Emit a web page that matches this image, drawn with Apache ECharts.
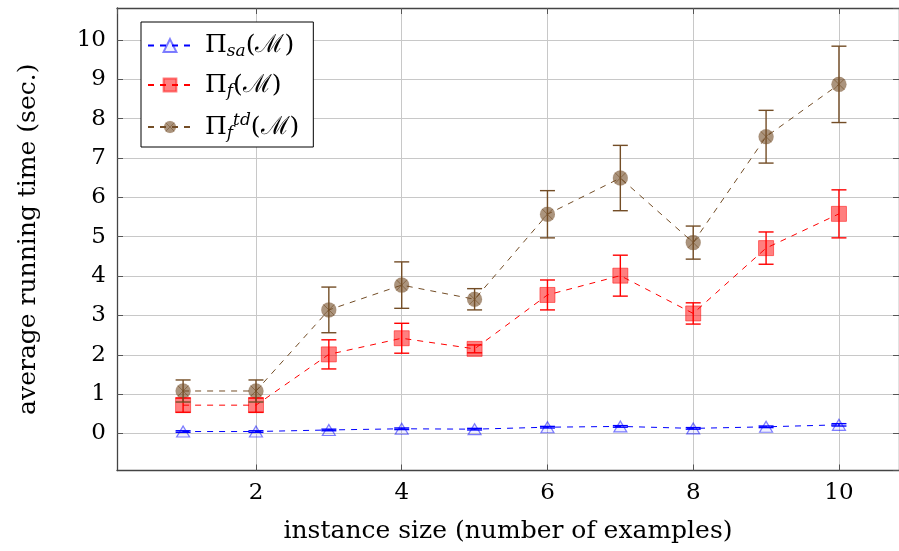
<!DOCTYPE html>
<html>
<head>
<meta charset="utf-8">
<script src="https://cdn.jsdelivr.net/npm/echarts@6/dist/echarts.min.js"></script>
<style>
  html, body { margin: 0; padding: 0; background: #fff; }
  #chart { width: 899px; height: 551px; }
</style>
</head>
<body>
<div id="chart"></div>
<script>
// instance sizes
const sizes = [1, 2, 3, 4, 5, 6, 7, 8, 9, 10];
// Pi_sa(M)
const saMean = [0.05, 0.05, 0.09, 0.12, 0.11, 0.16, 0.18, 0.13, 0.17, 0.22];
const saErr = [0.02, 0.02, 0.02, 0.02, 0.02, 0.02, 0.02, 0.02, 0.02, 0.03];
// Pi_f(M)
const fMean = [0.72, 0.72, 2.01, 2.42, 2.15, 3.52, 4.01, 3.05, 4.71, 5.58];
const fErr = [0.18, 0.18, 0.37, 0.38, 0.10, 0.38, 0.52, 0.27, 0.41, 0.61];
// Pi_f^td(M)
const tdMean = [1.08, 1.08, 3.14, 3.77, 3.41, 5.57, 6.49, 4.85, 7.54, 8.87];
const tdErr = [0.28, 0.28, 0.58, 0.59, 0.27, 0.60, 0.83, 0.42, 0.67, 0.97];

const FONT = '"DejaVu Serif", "Liberation Serif", serif';
const BLUE = '#0000ff', RED = '#ff0000', BROWN = '#734d26';

const pts = (ys) => sizes.map((x, i) => [x, ys[i]]);
const errPts = (ys, es) => sizes.map((x, i) => [x, ys[i], es[i]]);

// circle with a cross, like pgfplots otimes*
const otimesSvg = '<svg xmlns="http://www.w3.org/2000/svg" width="32" height="32" viewBox="0 0 32 32">' +
  '<circle cx="16" cy="16" r="15" fill="#734d26" fill-opacity="0.6" stroke="#734d26" stroke-opacity="0.3" stroke-width="1"/>' +
  '<path d="M5.4 5.4L26.6 26.6M26.6 5.4L5.4 26.6" stroke="#734d26" stroke-width="1.6" stroke-opacity="0.8"/></svg>';
const otimesSymbol = 'image://data:image/svg+xml;charset=utf-8,' + encodeURIComponent(otimesSvg);

function errorBars(color) {
  return function (params, api) {
    const x = api.value(0), y = api.value(1), e = api.value(2);
    const top = api.coord([x, y + e]);
    const bot = api.coord([x, y - e]);
    const hw = 7.5;
    const st = { stroke: color, lineWidth: 1.4 };
    return {
      type: 'group',
      children: [
        { type: 'line', shape: { x1: top[0], y1: top[1], x2: bot[0], y2: bot[1] }, style: st },
        { type: 'line', shape: { x1: top[0] - hw, y1: top[1], x2: top[0] + hw, y2: top[1] }, style: st },
        { type: 'line', shape: { x1: bot[0] - hw, y1: bot[1], x2: bot[0] + hw, y2: bot[1] }, style: st }
      ]
    };
  };
}

const xMin = 0.093, xMax = 10.824, yMin = -0.94, yMax = 10.81;

const tickStyle = { show: true, inside: true, length: 6, lineStyle: { color: '#555', width: 1 } };
const frameLine = { show: true, onZero: false, lineStyle: { color: '#444', width: 1.3 } };
const labelFont = { fontFamily: FONT, fontSize: 23, color: '#000' };

const chart = echarts.init(document.getElementById('chart'), null, { renderer: 'canvas' });

const option = {
  animation: false,
  backgroundColor: '#fff',
  grid: { left: 117, top: 8, right: 0, bottom: 80.5 },
  legend: {
    orient: 'vertical',
    left: 141,
    top: 22,
    backgroundColor: '#fff',
    borderColor: '#000',
    borderWidth: 1,
    padding: [11, 14, 5, 6],
    itemGap: 12,
    itemWidth: 44,
    itemHeight: 16,
    data: ['sa', 'f', 'td'],
    formatter: function (name) {
      if (name === 'sa') return '{n|Π}{i|sa}{n|(ℳ)}';
      if (name === 'f') return '{n|Π}{i|f}{n|(ℳ)}';
      return '{n|Π}{i|f}{p|td}{n|(ℳ)}';
    },
    textStyle: {
      fontFamily: FONT,
      fontSize: 25,
      color: '#000',
      padding: [0, 0, 0, 8],
      rich: {
        n: { fontFamily: FONT, fontSize: 25, lineHeight: 30, verticalAlign: 'middle' },
        i: { fontFamily: FONT, fontSize: 17, fontStyle: 'italic', lineHeight: 12, verticalAlign: 'bottom' },
        p: { fontFamily: FONT, fontSize: 17, fontStyle: 'italic', lineHeight: 12, verticalAlign: 'top' }
      }
    }
  },
  xAxis: [
    {
      type: 'value', min: xMin, max: xMax, splitNumber: 5,
      name: 'instance size (number of examples)', nameLocation: 'middle', nameGap: 48,
      nameTextStyle: { fontFamily: FONT, fontSize: 25, color: '#000' },
      axisLine: frameLine, axisTick: tickStyle,
      axisLabel: Object.assign({ margin: 11, showMinLabel: false, showMaxLabel: false }, labelFont),
      splitLine: { show: true, lineStyle: { color: '#c8c8c8', width: 1 } }
    },
    {
      type: 'value', position: 'top', min: xMin, max: xMax, splitNumber: 5,
      axisLine: frameLine, axisTick: tickStyle, axisLabel: { show: false }, splitLine: { show: false }
    }
  ],
  yAxis: [
    {
      type: 'value', min: yMin, max: yMax, splitNumber: 11,
      name: 'average running time (sec.)', nameLocation: 'middle', nameGap: 76,
      nameTextStyle: { fontFamily: FONT, fontSize: 25, color: '#000' },
      axisLine: frameLine, axisTick: tickStyle,
      axisLabel: Object.assign({ margin: 11, showMinLabel: false, showMaxLabel: false }, labelFont),
      splitLine: { show: true, lineStyle: { color: '#c8c8c8', width: 1 } }
    },
    {
      type: 'value', position: 'right', min: yMin, max: yMax, splitNumber: 11,
      axisLine: frameLine, axisTick: tickStyle, axisLabel: { show: false }, splitLine: { show: false }
    }
  ],
  series: [
    {
      name: 'sa', type: 'line', data: pts(saMean),
      lineStyle: { color: BLUE, width: 1, type: [6, 6] },
      symbol: 'triangle', symbolSize: [13, 11],
      itemStyle: { color: 'rgba(0,0,255,0.06)', borderColor: 'rgba(0,0,255,0.5)', borderWidth: 1.2 },
      z: 3
    },
    {
      name: 'f', type: 'line', data: pts(fMean),
      lineStyle: { color: RED, width: 1, type: [6, 6] },
      symbol: 'rect', symbolSize: 15,
      itemStyle: { color: 'rgba(255,0,0,0.5)', borderColor: 'rgba(255,0,0,0.5)', borderWidth: 1 },
      z: 3
    },
    {
      name: 'td', type: 'line', data: pts(tdMean),
      lineStyle: { color: BROWN, width: 1, type: [6, 6] },
      symbol: otimesSymbol, symbolSize: 16,
      itemStyle: { color: BROWN },
      z: 3
    },
    { type: 'custom', data: errPts(saMean, saErr), renderItem: errorBars(BLUE), z: 4, silent: true },
    { type: 'custom', data: errPts(fMean, fErr), renderItem: errorBars(RED), z: 4, silent: true },
    { type: 'custom', data: errPts(tdMean, tdErr), renderItem: errorBars(BROWN), z: 4, silent: true }
  ]
};

chart.setOption(option);
</script>
</body>
</html>
